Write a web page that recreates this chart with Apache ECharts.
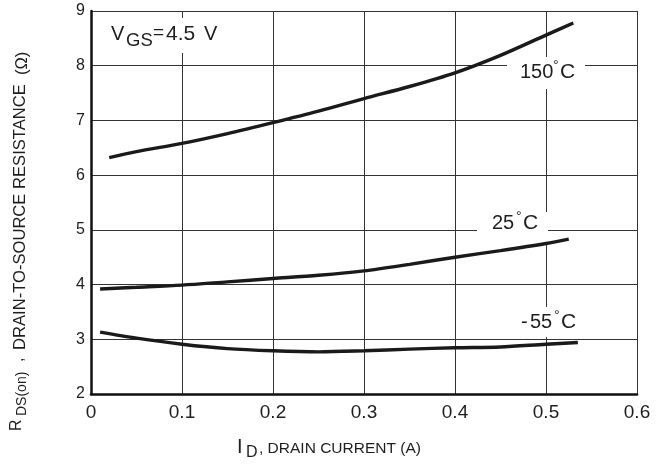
<!DOCTYPE html>
<html>
<head>
<meta charset="utf-8">
<script src="https://cdn.jsdelivr.net/npm/echarts@6/dist/echarts.min.js"></script>
<style>
html,body{margin:0;padding:0;background:#fff;}
#chart{width:658px;height:464px;}
</style>
</head>
<body>
<div id="chart"></div>
<script>
// ---- data ----
var xTickLabels = ['0', '0.1', '0.2', '0.3', '0.4', '0.5', '0.6'];
var yTickLabels = ['2', '3', '4', '5', '6', '7', '8', '9'];

var id150 = [0.02, 0.05, 0.10, 0.15, 0.20, 0.25, 0.30, 0.35, 0.40, 0.45, 0.50, 0.53];
var r150  = [6.32, 6.43, 6.58, 6.76, 6.96, 7.17, 7.40, 7.62, 7.87, 8.19, 8.56, 8.78];

var id25 = [0.01, 0.05, 0.10, 0.15, 0.20, 0.25, 0.30, 0.35, 0.40, 0.45, 0.50, 0.525];
var r25  = [3.92, 3.95, 3.99, 4.05, 4.11, 4.17, 4.25, 4.37, 4.50, 4.62, 4.75, 4.83];

var idm55 = [0.01, 0.05, 0.10, 0.15, 0.20, 0.25, 0.30, 0.35, 0.40, 0.45, 0.50, 0.535];
var rm55  = [3.13, 3.02, 2.91, 2.83, 2.79, 2.77, 2.79, 2.82, 2.845, 2.86, 2.91, 2.94];

function pairs(xs, ys) { return xs.map(function (x, i) { return [x, ys[i]]; }); }

var FONT = '"Liberation Sans", Arial, Helvetica, sans-serif';
var TXT = '#1e1e1e';

function txt(text, x, y, size, extra) {
  var s = { text: text, x: x, y: y, fill: TXT, fontSize: size, fontFamily: FONT,
            textAlign: 'left', textVerticalAlign: 'middle' };
  if (extra) for (var k in extra) s[k] = extra[k];
  return { type: 'text', z: 5, style: s, silent: true };
}
function box(x, y, w, h) {
  return { type: 'rect', z: 1, shape: { x: x, y: y, width: w, height: h },
           style: { fill: '#fff' }, silent: true };
}

var chart = echarts.init(document.getElementById('chart'), null, { renderer: 'canvas' });

var lineStyle = { color: '#1a1a1a', width: 3.4 };

var option = {
  animation: false,
  backgroundColor: '#fff',
  grid: { left: 91, right: 21, top: 11, bottom: 70, containLabel: false },
  xAxis: {
    type: 'value', min: 0, max: 0.6, interval: 0.1,
    axisLine: { show: true, onZero: false, lineStyle: { color: '#111', width: 2.5 } },
    axisTick: { show: false },
    splitLine: { show: true, showMinLine: false, showMaxLine: true, lineStyle: { color: '#333', width: 1 } },
    axisLabel: {
      margin: 9, fontSize: 19, color: TXT, fontFamily: FONT,
      showMinLabel: true, showMaxLabel: true,
      formatter: function (v) { return xTickLabels[Math.round(v * 10)]; }
    }
  },
  yAxis: {
    type: 'value', min: 2, max: 9, interval: 1,
    axisLine: { show: true, onZero: false, lineStyle: { color: '#111', width: 2.5 } },
    axisTick: { show: false },
    splitLine: { show: true, showMinLine: false, showMaxLine: true, lineStyle: { color: '#333', width: 1 } },
    axisLabel: {
      margin: 6, fontSize: 16, color: TXT, fontFamily: FONT,
      formatter: function (v) { return yTickLabels[Math.round(v - 2)]; }
    }
  },
  series: [
    { name: '150°C', type: 'line', data: pairs(id150, r150), smooth: 0.3, showSymbol: false, symbol: 'none', lineStyle: lineStyle, z: 3 },
    { name: '25°C', type: 'line', data: pairs(id25, r25), smooth: 0.3, showSymbol: false, symbol: 'none', lineStyle: lineStyle, z: 3 },
    { name: '-55°C', type: 'line', data: pairs(idm55, rm55), smooth: 0.3, showSymbol: false, symbol: 'none', lineStyle: lineStyle, z: 3 }
  ],
  graphic: [
    // white label backgrounds (hide grid lines behind annotations)
    box(106, 18, 116, 35),
    box(507, 57, 78, 32),
    box(477, 212, 71, 33),
    box(516, 307, 70, 30),

    // V_GS = 4.5 V
    txt('V', 111, 34, 20),
    txt('GS', 126, 41, 18.5),
    txt('=', 153, 33, 19),
    txt('4.5', 166, 34, 21),
    txt('V', 204, 34, 20),

    // 150°C
    txt('150', 520, 72, 20),
    txt('°', 553, 66, 14),
    txt('C', 560, 72, 21),
    // 25°C
    txt('25', 492, 223, 20),
    txt('°', 516, 217, 14),
    txt('C', 523, 223, 21),
    // -55°C
    txt('-', 521, 322, 20),
    txt('55', 530, 322, 20),
    txt('°', 554, 316, 14),
    txt('C', 561, 322, 21),

    // x-axis title
    txt('I', 237, 447, 20),
    txt('D', 246, 453, 16),
    txt(', DRAIN CURRENT (A)', 259, 449, 15.5),

    // y-axis title (rotated)
    {
      type: 'group', x: 0, y: 0, rotation: Math.PI / 2, silent: true,
      children: [
        txt('R', -431, 17, 16),
        txt('DS(on)', -416, 22, 14),
        txt(',', -362, 19, 16),
        txt('DRAIN-TO-SOURCE RESISTANCE', -350, 20, 16.6),
        txt('(Ω)', -75, 22, 16.5)
      ]
    }
  ]
};

chart.setOption(option);
</script>
</body>
</html>
